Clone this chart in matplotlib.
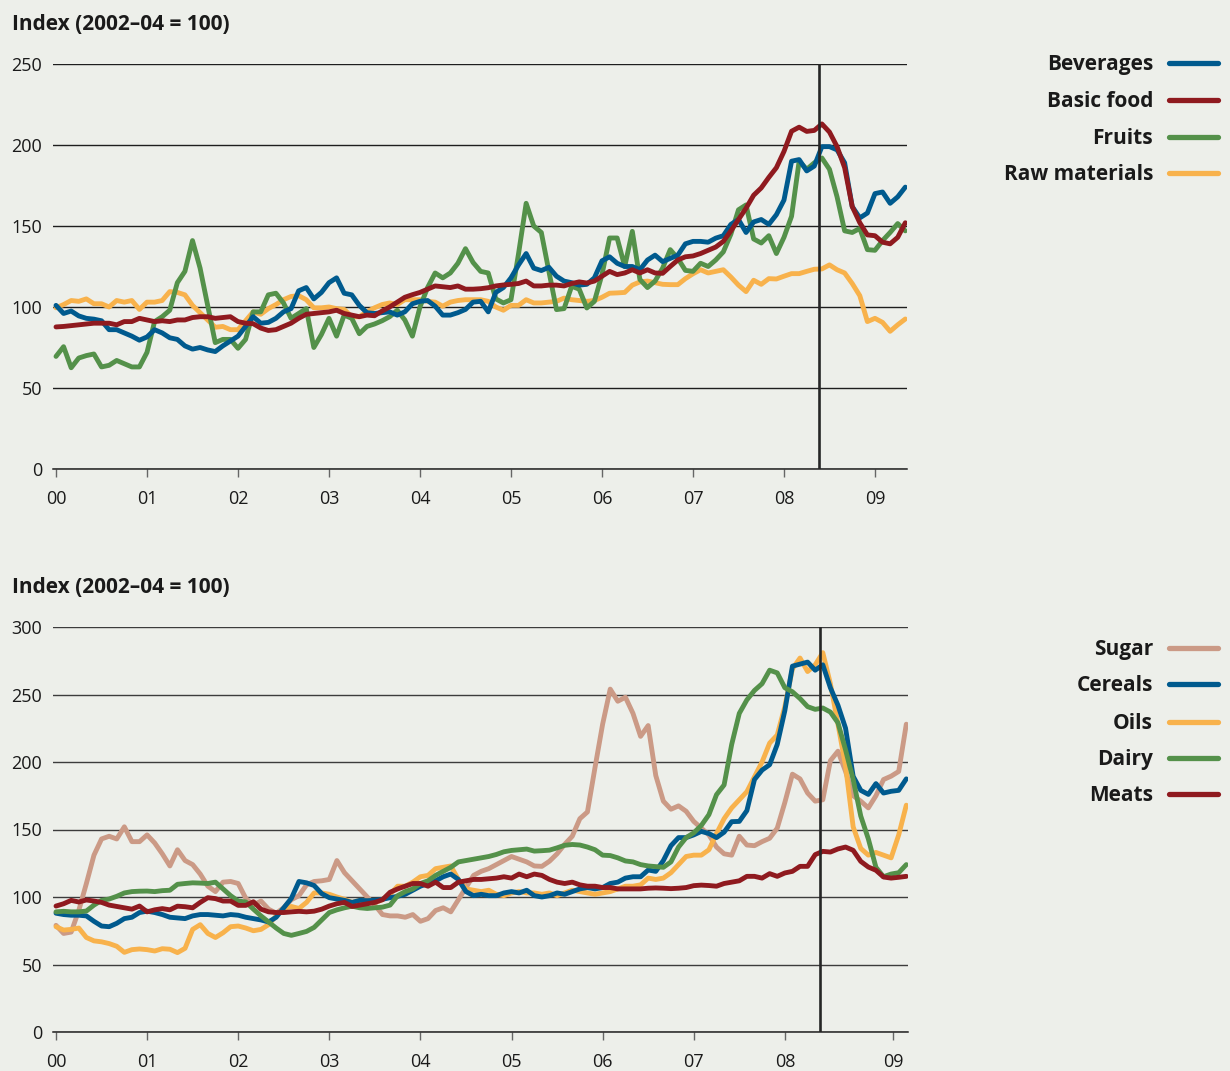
import numpy as np
import matplotlib
matplotlib.use('Agg')
import matplotlib.pyplot as plt
from matplotlib.lines import Line2D

# monthly index values, Jan 2000 .. May 2009 (2002-04 = 100)
# top panel
beverages = [101, 96, 97.5, 94.5, 93, 92.5, 91.5, 86, 86, 84,
             82, 79.5, 81.5, 86, 84, 81, 80, 76, 74, 75,
             73.5, 72.5, 76, 79, 82, 88, 94, 90, 90.5, 93,
             97, 99, 110, 112, 105, 109, 115, 118, 108.5, 107.5,
             101, 96.5, 96, 96.5, 97, 95, 97, 102, 103.5, 104,
             100.5, 95, 95, 96.5, 98.5, 103, 103.5, 97, 109, 112,
             118, 126, 133, 124, 122.5, 124.5, 119, 116, 115, 113.5,
             114, 118, 128.5, 131, 127, 125, 125, 123, 129, 132,
             128, 130, 132, 139, 140.5, 140.5, 140, 142.5, 144, 151,
             154, 146, 152.5, 154, 151, 157, 166, 190, 191, 184,
             187, 199, 199, 197, 189, 162, 155, 158, 170, 171,
             164, 168, 174]
basic_food = [87.7, 88, 88.5, 89, 89.5, 90, 90, 90, 89, 91,
              91, 93, 92, 91, 91.5, 91, 92, 92, 93.5, 94,
              94, 93, 93.5, 94, 91, 90, 89.7, 87, 85.5, 86,
              88, 90, 93, 95.5, 96, 96.5, 97, 98, 96, 95,
              94, 95, 94.6, 97.5, 100, 103, 106, 107.6, 109, 111,
              113, 112.5, 112, 113, 111, 111, 111.3, 111.9, 113, 113.6,
              114, 114.5, 116, 113, 113, 113.5, 113.5, 113, 114.5, 115.5,
              114.8, 116, 119, 122, 120, 121, 123, 121, 123, 121,
              120.8, 125, 129, 131, 131.5, 133, 135, 137, 140.5, 147,
              154, 161, 169, 173.5, 180, 186, 196, 208.5, 211, 208.4,
              209, 213, 208, 199, 186, 162, 152, 144.5, 144, 140,
              139, 143, 152]
fruits = [69.5, 75.5, 62.5, 68.5, 70, 71, 63, 64, 67, 65,
          63, 63, 72, 91, 94, 98, 115, 122, 141, 124,
          101, 78, 80, 80, 74.5, 80, 97, 97, 107.5, 108.5,
          102.5, 93, 96, 99, 75, 83, 93, 82, 95, 93,
          83.5, 88, 89.5, 91.5, 94, 98, 92, 82, 100, 112,
          121, 118, 121, 127, 136, 127.5, 122, 121, 105, 102.5,
          104.5, 133, 164, 150, 146, 122, 98.4, 99, 112.8, 111,
          99.4, 103.5, 120, 142.6, 142.6, 125, 146.7, 117, 112, 116,
          124, 135.4, 130, 122.6, 122, 127, 125, 129, 134, 145,
          160, 163, 142, 139.5, 144, 133, 143, 156, 190, 185,
          189, 192, 185, 168, 147, 146, 148.5, 135.4, 135, 141,
          146, 151.5, 147]
raw_materials = [99.5, 101.5, 104, 103.5, 105, 102, 102, 100, 104, 103,
                 104, 98.5, 103, 103, 104, 109.5, 109, 107.5, 101, 96.5,
                 92, 87.5, 88, 86, 86, 91.5, 97, 95.5, 99, 101.5,
                 104.5, 106.5, 107, 104.5, 99.5, 99.5, 100, 99, 98.5, 94,
                 94, 97, 99.5, 101.5, 102.5, 101.5, 104.5, 104.5, 104.5, 103.5,
                 103, 100.5, 103, 104, 104.5, 104.5, 104.5, 103.5, 100, 98,
                 101, 101, 104.5, 102.5, 102.5, 103, 103.5, 105.5, 104.5, 104,
                 103.5, 104, 106, 108.5, 108.7, 109, 113.5, 115.5, 116, 115,
                 114, 113.8, 113.8, 117.5, 120.5, 123, 121, 122, 123, 118.5,
                 113.5, 109.5, 116.5, 114, 117.5, 117.3, 119, 120.6, 120.6, 122,
                 123.3, 123.5, 126, 123, 121, 114.5, 107, 91, 93, 90.5,
                 85, 89, 92.6]

# bottom panel
sugar = [79, 73, 74, 90, 110, 131, 143, 145, 143, 152,
         141, 141, 146, 140, 132, 123, 135, 127, 124, 117,
         108, 104, 111, 111.5, 110, 99, 94, 97, 91, 88,
         92, 98, 101, 109, 111.5, 112, 113, 127, 118, 112,
         106, 100, 94, 87, 86, 86, 85, 87, 82, 84,
         90, 92, 89, 98, 107, 116, 119, 121, 124, 127,
         130, 128, 126, 123, 122.7, 126.5, 132, 139, 145, 158,
         163, 196, 228, 254, 245, 248, 236, 219, 227, 190,
         171, 165, 167.5, 163.5, 156, 151, 146, 137, 132, 131,
         145, 138.5, 138, 141, 143.5, 151, 170, 191, 187.5, 177,
         171, 172, 201, 208, 193, 175, 171, 166, 175, 187,
         189.5, 193, 228]
cereals = [88, 87, 86.5, 86.5, 86, 82, 78.5, 78, 80.5, 84,
           85, 88.5, 89.5, 88.5, 87, 85, 84.5, 84, 86, 87,
           87, 86.5, 86, 87, 86.5, 85, 84, 83, 81.5, 85,
           92, 99, 111.5, 110.5, 108.5, 102.5, 99.5, 98.5, 97.5, 96,
           97.5, 97.3, 97.5, 98.3, 99.5, 100.5, 102, 105, 108, 110,
           112, 115, 117, 113, 104, 101, 102, 101, 101, 103,
           104, 103, 105, 101, 100, 101, 103, 102, 104, 106,
           107, 106, 107, 110, 111, 114, 115, 115, 120, 119,
           127, 138, 144, 144, 146, 148.6, 147, 144, 148, 155.8,
           156, 164, 187, 194, 198, 213, 238, 271, 272.5, 274,
           268, 272, 255, 242, 225, 189.4, 179, 176, 184, 177,
           178.3, 179, 187.5]
oils = [78, 75.5, 76, 77, 70, 67.5, 66.8, 65.5, 63.5, 59,
        61, 61.5, 61, 60, 61.7, 61.3, 58.8, 62, 76, 79.5,
        73, 70, 73.5, 78, 78.5, 77, 75, 76, 79.5, 86,
        91.5, 93, 91.5, 96, 103, 103, 102, 100, 98.3, 96,
        97.5, 97.5, 96, 98, 102, 108, 108, 111, 115, 116,
        121, 122, 123, 113, 106, 105, 104, 105, 102, 101,
        103, 104, 103, 103, 102, 103, 101, 103, 105, 104,
        103, 102, 103, 104, 106, 108, 108, 109, 114, 113,
        114, 118, 124, 130, 131, 131, 135, 147, 158, 166,
        172, 178, 189, 200, 214, 220, 241, 269, 277, 267,
        272, 281, 258, 228, 197, 152, 136, 131, 133, 131,
        129, 146, 168]
dairy = [89, 89.4, 89, 89, 89.6, 94, 97.5, 98.5, 100.5, 103,
         104, 104.3, 104.4, 104, 104.7, 105, 109.4, 110, 110.5, 110.3,
         110, 111, 106, 101, 97, 96.3, 91, 86, 81.5, 77,
         73, 71.6, 73, 74.5, 77.5, 83, 88.5, 90.5, 92, 93.2,
         92, 91.5, 92, 92.5, 94, 101, 104, 106, 110, 112,
         116, 119, 122, 126, 127, 128, 129, 130, 131.5, 133.5,
         134.5, 135, 135.5, 134, 134.3, 134.7, 136.4, 138.3, 138.9, 138.5,
         137, 135, 131, 130.7, 129, 126.7, 126, 124, 123, 122.5,
         122, 126, 137, 144, 147.5, 153, 161, 175.8, 183, 213,
         236, 246, 253, 258, 268, 266, 255, 252, 247, 241,
         239, 240, 237, 229, 209, 187, 160, 143, 122, 115,
         117, 118, 124]
meats = [93.3, 95, 97.5, 96.3, 97.8, 97, 96, 94, 93, 92,
         91, 93.3, 89, 90.5, 91.4, 90.5, 93.2, 92.8, 92, 96,
         99.5, 98.8, 97, 97, 93.8, 93.8, 96.5, 91, 89, 88.5,
         88.5, 89, 89.4, 89, 89.5, 91, 93.3, 95, 96, 93,
         94, 95, 96, 98, 103.5, 106, 108, 110, 110, 108,
         111, 107, 107, 111, 112, 113, 113, 113.5, 114, 115,
         114, 117, 115, 117, 116, 113, 111, 110, 111, 109,
         108, 108, 107, 107, 106, 106, 106, 106, 106.5, 106.7,
         106.5, 106.2, 106.5, 107, 108.4, 108.8, 108.5, 108, 110, 111,
         112, 115.3, 115.3, 114, 117.3, 115.3, 117.8, 119, 122.7, 122.7,
         131.4, 133.8, 133.3, 135.6, 137, 134.6, 126.4, 122.2, 119.8, 114.8,
         114, 114.6, 115.3]

year_labels = ['00', '01', '02', '03', '04', '05', '06', '07', '08', '09']
top_ticks = [0, 1, 2, 3, 4, 5, 6, 7, 8, 9]
bottom_ticks = [0, 1, 2, 3, 4, 5, 6, 7, 8, 9.19]
marker_year = 8.385   # vertical line, May 2008

BG = '#edefea'
BLUE = '#005a8e'
RED = '#8f1a1f'
GREEN = '#54914a'
ORANGE = '#f8b24c'
TAN = '#cb9a86'

plt.rcParams['font.family'] = ['Open Sans', 'DejaVu Sans']

W, H = 1230, 1071
fig = plt.figure(figsize=(W / 100, H / 100), dpi=100, facecolor=BG)

def px_axes(x0, y0, x1, y1):
    return fig.add_axes([x0 / W, 1 - y1 / H, (x1 - x0) / W, (y1 - y0) / H])

ax1 = px_axes(53, 64, 907, 469)
ax2 = px_axes(53, 627, 908, 1032)

top_series = [('Raw materials', raw_materials, ORANGE),
              ('Fruits', fruits, GREEN),
              ('Beverages', beverages, BLUE),
              ('Basic food', basic_food, RED)]
bottom_series = [('Sugar', sugar, TAN),
                 ('Oils', oils, ORANGE),
                 ('Cereals', cereals, BLUE),
                 ('Dairy', dairy, GREEN),
                 ('Meats', meats, RED)]

def style_axes(ax, ymax, ystep, ticks, gridcol):
    ax.set_facecolor(BG)
    ax.set_xlim(-0.033, 9.352)
    ax.set_ylim(0, ymax)
    ax.set_yticks(np.arange(0, ymax + 1, ystep))
    ax.set_xticks(ticks)
    ax.set_xticklabels(year_labels)
    for s in ['top', 'right', 'left']:
        ax.spines[s].set_visible(False)
    ax.spines['bottom'].set_color('#222222')
    ax.spines['bottom'].set_linewidth(1.1)
    ax.grid(axis='y', color=gridcol, linewidth=1.0)
    ax.set_axisbelow(True)
    ax.tick_params(axis='y', length=0, pad=8, labelsize=13, labelcolor='#1a1a1a')
    ax.tick_params(axis='x', length=6, width=1, color='#666666', pad=9,
                   labelsize=13, labelcolor='#1a1a1a')
    ax.axvline(marker_year, ymin=0, ymax=1, color='#262626', linewidth=1.9, zorder=5)

for name, vals, col in top_series:
    x = np.arange(len(vals)) / 12
    ax1.plot(x, vals, color=col, linewidth=3.5, solid_capstyle='round',
             solid_joinstyle='round', zorder=3)
for name, vals, col in bottom_series:
    x = np.arange(len(vals)) / 12
    ax2.plot(x, vals, color=col, linewidth=3.5, solid_capstyle='round',
             solid_joinstyle='round', zorder=3)

style_axes(ax1, 250, 50, top_ticks, '#1e1e1e')
style_axes(ax2, 300, 50, bottom_ticks, '#3c3c3c')

fig.text(12 / W, 1 - 30 / H, 'Index (2002–04 = 100)', fontsize=15, fontweight='bold',
         color='#1a1a1a', va='baseline', ha='left')
fig.text(12 / W, 1 - 593 / H, 'Index (2002–04 = 100)', fontsize=15, fontweight='bold',
         color='#1a1a1a', va='baseline', ha='left')

# legends on the right: text right-aligned, coloured bar after it
def side_legend(entries, rows):
    for (name, col), y in zip(entries, rows):
        fig.text(1153 / W, 1 - (y + 7) / H, name, fontsize=15, fontweight='bold',
                 color='#1a1a1a', ha='right', va='baseline')
        fig.add_artist(Line2D([1169 / W, 1218 / W], [1 - y / H, 1 - y / H],
                              color=col, linewidth=3.8, solid_capstyle='round',
                              transform=fig.transFigure))

side_legend([('Beverages', BLUE), ('Basic food', RED), ('Fruits', GREEN),
             ('Raw materials', ORANGE)], [63, 100, 137, 173])
side_legend([('Sugar', TAN), ('Cereals', BLUE), ('Oils', ORANGE),
             ('Dairy', GREEN), ('Meats', RED)], [648, 684, 722, 758, 794])

fig.savefig('out.png', dpi=100, facecolor=BG)
